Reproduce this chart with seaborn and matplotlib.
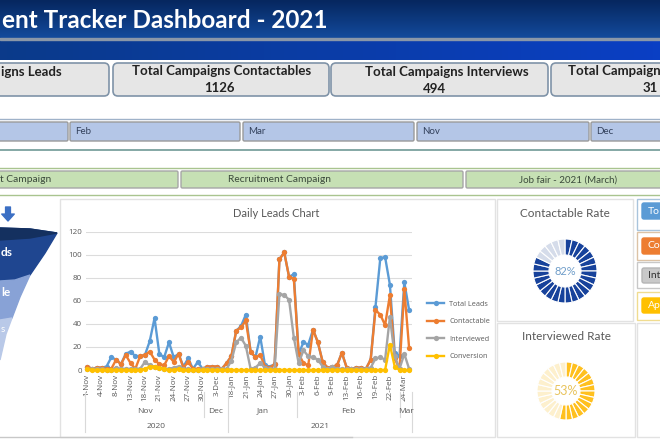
"""
plot.py
Recreates the recruitment tracker dashboard:
- Header, KPI cards and slicer buttons
- Daily leads line chart
- Contactable / interviewed rate doughnuts
"""

import numpy as np
import pandas as pd
import matplotlib.pyplot as plt
import seaborn as sns
from matplotlib.patches import FancyBboxPatch, Polygon, Rectangle

total_leads = [3, 1, 2, 2, 3, 11, 9, 5, 14, 16, 12, 12, 13, 25, 45, 14, 11, 24, 11, 14, 3, 10, 1, 7,
               1, 3, 3, 3, 1, 6, 12, 34, 38, 48, 16, 11, 29, 4, 3, 5, 96, 102, 81, 83, 14, 24, 22, 35,
               24, 7, 2, 3, 4, 15, 2, 1, 2, 2, 1, 9, 55, 97, 98, 74, 15, 12, 76, 52]
contactable = [3, 1, 2, 2, 1, 1, 9, 5, 13, 6, 1, 12, 13, 16, 9, 5, 4, 12, 7, 14, 2, 7, 1, 1,
               1, 3, 3, 3, 1, 6, 12, 34, 37, 43, 16, 11, 13, 3, 2, 5, 96, 102, 81, 79, 14, 6, 4, 35,
               24, 7, 2, 3, 4, 15, 2, 1, 2, 2, 1, 9, 52, 48, 39, 65, 10, 1, 70, 19]
interviewed = [1, 1, 1, 1, 0, 0, 2, 1, 1, 1, 1, 1, 7, 4, 3, 2, 1, 1, 2, 3, 1, 1, 0, 0,
               1, 1, 1, 1, 1, 1, 8, 24, 28, 21, 1, 2, 6, 2, 1, 1, 66, 65, 61, 28, 6, 17, 12, 11,
               9, 3, 1, 3, 1, 1, 1, 1, 1, 1, 1, 2, 10, 11, 9, 46, 12, 1, 14, 1]
conversion = [1, 0, 0, 0, 0, 0, 0, 0, 0, 0, 0, 0, 1, 3, 3, 2, 1, 0, 0, 1, 0, 0, 0, 0,
              0, 0, 0, 0, 0, 0, 0, 0, 0, 0, 0, 0, 0, 0, 0, 0, 0, 0, 0, 0, 0, 0, 0, 0,
              0, 0, 0, 0, 0, 0, 0, 0, 0, 0, 0, 0, 0, 0, 0, 22, 3, 0, 0, 0]
tick_labels = ["1-Nov", "4-Nov", "8-Nov", "13-Nov", "18-Nov", "21-Nov", "24-Nov", "27-Nov",
               "30-Nov", "3-Dec", "18-Jan", "21-Jan", "24-Jan", "27-Jan", "30-Jan", "3-Feb",
               "6-Feb", "9-Feb", "13-Feb", "16-Feb", "19-Feb", "22-Feb", "24-Mar"]
months = ["Nov", "Dec", "Jan", "Feb", "Mar"]
years = ["2020", "2021"]
slicers = ["Feb", "Mar", "Nov", "Dec"]
campaigns = ["Recruitment Campaign", "Job fair - 2021 (March)"]
contactable_rate = 82
interviewed_rate = 53

FONT = "Lato"
GREY = "#595959"


def box(x0, y0, x1, y1, face, edge, lw=1.0, pad=2.5):
    # rounded rectangle on the page axes, all numbers in pixels
    plt.gca().add_patch(FancyBboxPatch((x0, y0), x1 - x0, y1 - y0, boxstyle=f"round,pad=0,rounding_size={pad}",
                                       facecolor=face, edgecolor=edge, linewidth=lw))


def draw_page():
    plt.axes([0, 0, 1, 1])
    plt.axis("off")

    # header gradients
    header = np.linspace(0, 1, 40).reshape(-1, 1)
    plt.imshow(header, extent=(0, 660, 38, 0), cmap=sns.blend_palette(["#06275f", "#134a9c"], as_cmap=True), aspect="auto")
    band = np.linspace(0, 1, 100).reshape(1, -1)
    plt.imshow(band, extent=(0, 660, 60, 40), cmap=sns.blend_palette(["#0b3a8a", "#0a3fc4"], as_cmap=True), aspect="auto")
    plt.xlim(0, 660)
    plt.ylim(440, 0)
    plt.gca().add_patch(Rectangle((0, 38), 660, 2, color="#8a97a8"))
    # only the part of the title that is on the page
    plt.text(327, 20, "ent Tracker Dashboard - 2021", ha="right", va="center", color="white",
             fontsize=17.5, fontweight="bold", family=FONT)

    # KPI cards
    for x0, x1 in [(-20, 109), (113, 329), (331, 548), (551, 680)]:
        box(x0, 63, x1, 96, "#e6e6e6", "#7f93a8", lw=1.2, pad=5)
    plt.text(62, 72, "igns Leads", ha="right", va="center", fontsize=9.5, fontweight="bold", family=FONT, color="#222222")
    plt.text(222, 71, "Total Campaigns Contactables", ha="center", va="center", fontsize=9.5, fontweight="bold", family=FONT, color="#222222")
    plt.text(219, 88, "1126", ha="center", va="center", fontsize=9.5, fontweight="bold", family=FONT, color="#222222")
    plt.text(447, 72, "Total Campaigns Interviews", ha="center", va="center", fontsize=9.5, fontweight="bold", family=FONT, color="#222222")
    plt.text(434, 89, "494", ha="center", va="center", fontsize=9.5, fontweight="bold", family=FONT, color="#222222")
    plt.text(568, 71, "Total Campaign", ha="left", va="center", fontsize=9.5, fontweight="bold", family=FONT, color="#222222")
    plt.text(650, 88, "31", ha="center", va="center", fontsize=9.5, fontweight="bold", family=FONT, color="#222222")

    # month slicer
    plt.plot([0, 660], [119.5, 119.5], color="#9fb2c9", lw=1)
    plt.plot([0, 660], [150, 150], color="#6f9a96", lw=1.2)
    box(-20, 122, 68, 141, "#b4c6e7", "#9a9a9a", pad=1.5)
    for (x0, x1), name in zip([(70, 240), (243, 414), (417, 589), (591, 680)], slicers):
        box(x0, 122, x1, 141, "#b4c6e7", "#9a9a9a", pad=1.5)
        plt.text(x0 + 5, 131.5, name, ha="left", va="center", fontsize=7, family=FONT, color="#33415c")

    # campaign slicer
    plt.plot([0, 660], [168, 168], color="#a9c48f", lw=1)
    plt.plot([0, 660], [195.5, 195.5], color="#a9c48f", lw=1)
    for x0, x1 in [(-20, 178), (181, 463), (466, 680)]:
        box(x0, 171, x1, 188, "#c6e0b4", "#a6a6a6", pad=1.5)
    plt.text(51, 180, "t Campaign", ha="right", va="center", fontsize=7.4, family=FONT, color="#3b4a3b")
    plt.text(280, 180, campaigns[0], ha="center", va="center", fontsize=7.4, family=FONT, color="#3b4a3b")
    plt.text(568, 180, campaigns[1], ha="center", va="center", fontsize=7, family=FONT, color="#3b4a3b")

    # panels
    for x0, y0, x1, y1 in [(60, 199, 495, 437), (497, 199, 633, 321), (497, 323, 635, 437), (637, 323, 680, 437)]:
        plt.gca().add_patch(Rectangle((x0, y0), x1 - x0, y1 - y0, facecolor="white", edgecolor="#e2e2e2", linewidth=1))
    plt.plot([0, 352], [437.5, 437.5], color="#c8c8c8", lw=1)

    # side buttons
    for y0, y1, by0, by1, edge, face, name, color in [
            (199, 230, 203, 219, "#a9c4dc", "#5b9bd5", "To", "white"),
            (232, 260, 238, 254, "#dcc3a6", "#ed7d31", "Co", "white"),
            (262, 288, 268, 283, "#c8c8c8", "#c9c9c9", "Int", "#333333"),
            (292, 320, 298, 313, "#f0dc90", "#ffc000", "Ap", "white")]:
        plt.gca().add_patch(Rectangle((637, y0), 40, y1 - y0, facecolor="white", edgecolor=edge, linewidth=1))
        box(642, by0, 680, by1, face, "#b5b5b5" if face == "#c9c9c9" else face, pad=2)
        plt.text(648, (by0 + by1) / 2, name, ha="left", va="center", fontsize=7.5, family=FONT, color=color)

    # funnel on the left
    plt.gca().add_patch(Polygon([(0, 228), (30, 229), (57, 233), (45, 253), (30, 275), (15, 280), (0, 281)], color="#1f4690"))
    plt.gca().add_patch(Polygon([(0, 228), (30, 229), (57, 233), (30, 238), (0, 240)], color="#14305f"))
    plt.gca().add_patch(Polygon([(0, 281), (15, 280), (30, 275), (20, 297), (12, 318), (0, 320)], color="#88a2d6"))
    plt.gca().add_patch(Polygon([(0, 320), (12, 318), (6, 334), (0, 360)], color="#b9c9e8"))
    plt.text(1, 252, "ds", ha="left", va="center", fontsize=8.5, fontweight="bold", family=FONT, color="white")
    plt.text(1, 292, "le", ha="left", va="center", fontsize=8.5, fontweight="bold", family=FONT, color="white")
    plt.text(1, 330, "s", ha="left", va="center", fontsize=7, family=FONT, color="white")
    plt.annotate("", xy=(8, 221), xytext=(8, 207), arrowprops=dict(facecolor="#3b6fc4", edgecolor="#3b6fc4", width=3.5, headwidth=9, headlength=5))


def draw_chart():
    ax = plt.axes([86 / 660, (440 - 370) / 440, 326 / 660, 138.3 / 440])
    df = pd.DataFrame({"Total Leads": total_leads, "Contactable": contactable,
                       "Interviewed": interviewed, "Conversion": conversion})
    df["day"] = df.index
    long_df = df.melt(id_vars="day", var_name="series", value_name="count")
    sns.lineplot(data=long_df, x="day", y="count", hue="series", style="series", ax=ax,
                 palette=["#5b9bd5", "#ed7d31", "#a5a5a5", "#ffc000"], markers=["o"] * 4, dashes=False,
                 linewidth=1.7, markersize=3.8, markeredgewidth=0, clip_on=False)
    sns.despine(ax=ax, left=True, bottom=True)
    ax.patch.set_alpha(0)
    ax.grid(axis="y", color="#dcdcdc", linewidth=0.8)
    ax.set_axisbelow(True)
    ax.set_yticks(range(0, 121, 20))
    ax.set_xticks(range(0, 3 * len(tick_labels), 3))
    ax.set_xticklabels(tick_labels, rotation=90)
    ax.tick_params(length=0, labelsize=5.8, labelcolor=GREY, pad=3)
    ax.set_xlabel("")
    ax.set_ylabel("")
    ax.legend(loc="center left", bbox_to_anchor=(1.035, 0.285), frameon=False, fontsize=5.2, labelcolor=GREY,
              handlelength=2.35, labelspacing=1.45, handletextpad=0.7, borderpad=0)

    # multi level axis, the month edges are in points of the series
    edges = [-0.5, 24.3, 29.3, 43.6, 65.0, 67.6]
    trans = ax.get_xaxis_transform()
    frac = lambda y: (370 - y) / 138.3
    for i, name in enumerate(months):
        ax.text((edges[i] + edges[i + 1]) / 2, frac(411), name, transform=trans, ha="center", va="center", fontsize=6, color=GREY)
    ax.text((edges[0] + edges[2]) / 2, frac(426), years[0], transform=trans, ha="center", va="center", fontsize=6, color=GREY)
    ax.text((edges[2] + edges[5]) / 2, frac(426), years[1], transform=trans, ha="center", va="center", fontsize=6, color=GREY)
    for i, edge in enumerate(edges):
        bottom = 432 if i in (0, 2, 5) else 417
        ax.plot([edge, edge], [frac(392), frac(bottom)], transform=trans, color="#d9d9d9", lw=0.8, clip_on=False)
    ax.set_xlim(-0.27, 67.6)
    ax.set_ylim(0, 120)
    plt.figtext(276 / 660, 1 - 213 / 440, "Daily Leads Chart", ha="center", va="center", fontsize=8, family=FONT, color=GREY)


def draw_donut(cx, cy, radius, hole, rate, on_color, off_color, text_color, title, title_y):
    ax = plt.axes([(cx - radius) / 660, (440 - cy - radius) / 440, 2 * radius / 660, 2 * radius / 440])
    segments = [1] * 28
    filled = round(rate / 100 * len(segments))
    colors = [on_color] * filled + [off_color] * (len(segments) - filled)
    ax.pie(segments, colors=colors, startangle=90, counterclock=False, radius=1,
           wedgeprops=dict(width=1 - hole / radius, edgecolor="white", linewidth=0.8))
    ax.set_xlim(-1, 1)
    ax.set_ylim(-1, 1)
    ax.text(0, 0, f"{rate}%", ha="center", va="center", fontsize=8 if rate == 82 else 9, family=FONT, color=text_color)
    plt.figtext(cx / 660, 1 - title_y / 440, title, ha="center", va="center", fontsize=8.5, family=FONT, color=GREY)


def main():
    plt.rcParams["font.family"] = ["Open Sans", "DejaVu Sans"]
    plt.figure(figsize=(6.6, 4.4), dpi=100)
    draw_page()
    draw_chart()
    draw_donut(565, 271, 32, 16, contactable_rate, "#17429b", "#d5dcea", "#6f9dc9", "Contactable Rate", 213)
    draw_donut(566, 391, 29, 14, interviewed_rate, "#ffc01e", "#fdf0cd", "#e8c35c", "Interviewed Rate", 337)
    plt.savefig("out.png", dpi=100)


if __name__ == "__main__":
    main()
